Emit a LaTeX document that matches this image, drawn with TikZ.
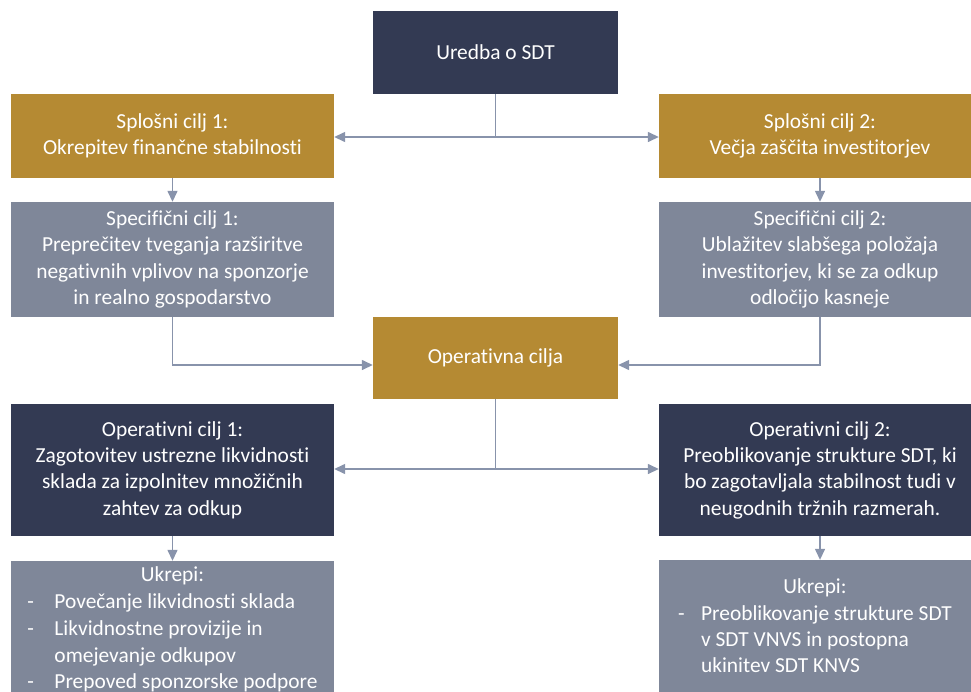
\documentclass[tikz,border=0pt]{standalone}
\usepackage{fontspec}
\setmainfont{Carlito}[RawFeature={-liga}]
\usetikzlibrary{arrows.meta}
\definecolor{navy}{HTML}{333A53}
\definecolor{gold}{HTML}{B58A33}
\definecolor{slate}{HTML}{7F8799}
\definecolor{connc}{HTML}{8893AB}
\tikzset{
  box/.style={rectangle, inner sep=0pt, text=white, align=center,
    font=\fontsize{21.4}{26.3}\selectfont},
  conn/.style={draw=connc, line width=1.4pt},
  arr/.style={conn, -{Triangle[length=11pt,width=10pt]}}
}
\begin{document}
\begin{tikzpicture}[x=1pt,y=-1pt]
\clip (0,0) rectangle (971,691);
\fill[white] (0,0) rectangle (971,691);

\node[box, fill=navy, minimum width=245pt, minimum height=83pt] (uredba) at (495.5,52.5) {Uredba o SDT};

\node[box, fill=gold, minimum width=323pt, minimum height=84pt] (g1) at (172.5,136) {Splošni cilj 1:\\Okrepitev finančne stabilnosti};
\node[box, fill=gold, minimum width=322pt, minimum height=84pt] (g2) at (820,136) {Splošni cilj 2:\\Večja zaščita investitorjev};

\node[box, fill=slate, minimum width=323pt, minimum height=115pt] (s1) at (172.5,259.5) {Specifični cilj 1:\\Preprečitev tveganja razširitve\\negativnih vplivov na sponzorje\\in realno gospodarstvo};
\node[box, fill=slate, minimum width=322pt, minimum height=115pt] (s2) at (820,259.5) {Specifični cilj 2:\\Ublažitev slabšega položaja\\investitorjev, ki se za odkup\\odločijo kasneje};

\node[box, fill=gold, minimum width=245pt, minimum height=82pt] (op) at (495.5,358) {Operativna cilja};

\node[box, fill=navy, minimum width=323pt, minimum height=132pt] (n1) at (172.5,470) {Operativni cilj 1:\\Zagotovitev ustrezne likvidnosti\\sklada za izpolnitev množičnih\\zahtev za odkup};
\node[box, fill=navy, minimum width=322pt, minimum height=132pt] (n2) at (820,470) {Operativni cilj 2:\\Preoblikovanje strukture SDT, ki\\bo zagotavljala stabilnost tudi v\\neugodnih tržnih razmerah.};

\node[box, fill=slate, minimum width=323pt, minimum height=138pt,
  font=\fontsize{21.4}{26.8}\selectfont] (u1) at (172.5,630) {\begin{tabular}{@{}p{27pt}@{}l@{}}
\multicolumn{2}{@{}c@{}}{Ukrepi:}\\
-&Povečanje likvidnosti sklada\\
-&Likvidnostne provizije in\\
&omejevanje odkupov\\
-&Prepoved sponzorske podpore
\end{tabular}};
\node[box, fill=slate, minimum width=322pt, minimum height=136pt] (u2) at (820,628) {\begin{tabular}{@{}p{23pt}@{}l@{\hspace{10pt}}}
\multicolumn{2}{@{}c@{\hspace{10pt}}}{Ukrepi:}\\
-&Preoblikovanje strukture SDT\\
&v SDT VNVS in postopna\\
&ukinitev SDT KNVS
\end{tabular}};

\coordinate (j1) at (uredba.south |- 0,137);
\draw[conn] (uredba.south) -- (j1);
\draw[arr] (j1) -- (g1.east |- j1);
\draw[arr] (j1) -- (g2.west |- j1);

\draw[arr] (g1.south) -- (s1.north);
\draw[arr] (g2.south) -- (s2.north);

\draw[arr] (s1.south) |- ([yshift=-7pt]op.west);
\draw[arr] (s2.south) |- ([yshift=-7pt]op.east);

\coordinate (j2) at (op.south |- 0,469);
\draw[conn] (op.south) -- (j2);
\draw[arr] (j2) -- (n1.east |- j2);
\draw[arr] (j2) -- (n2.west |- j2);

\draw[arr] (n1.south) -- (u1.north);
\draw[arr] (n2.south) -- (u2.north);
\end{tikzpicture}
\end{document}
